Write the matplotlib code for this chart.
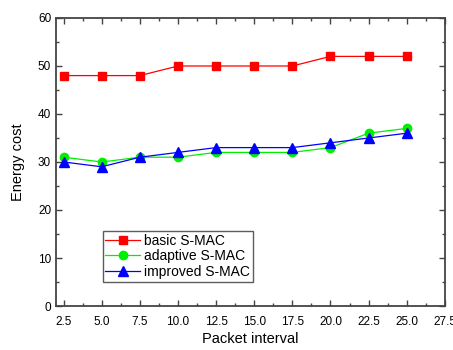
import matplotlib
matplotlib.use('Agg')
import matplotlib.pyplot as plt
from matplotlib.ticker import MultipleLocator

plt.rcParams['font.family'] = ['Liberation Sans', 'DejaVu Sans']

# Data
interval = [2.5, 5.0, 7.5, 10.0, 12.5, 15.0, 17.5, 20.0, 22.5, 25.0]
basic = [48, 48, 48, 50, 50, 50, 50, 52, 52, 52]
adaptive = [31, 30, 31, 31, 32, 32, 32, 33, 36, 37]
improved = [30, 29, 31, 32, 33, 33, 33, 34, 35, 36]

fig = plt.figure(figsize=(4.53, 3.5), dpi=100)
ax = fig.add_axes([0.1236, 0.1257, 0.8584, 0.8229])

ax.plot(interval, basic, color='red', marker='s', markersize=5.5, linewidth=0.9, label='basic S-MAC')
ax.plot(interval, adaptive, color='#00ee00', marker='o', markersize=6, linewidth=0.9, label='adaptive S-MAC')
ax.plot(interval, improved, color='blue', marker='^', markersize=6.5, linewidth=0.9, label='improved S-MAC')

ax.set_xlim(2.0, 27.5)
ax.set_ylim(0, 60)
ax.xaxis.set_major_locator(MultipleLocator(2.5))
ax.xaxis.set_minor_locator(MultipleLocator(1.25))
ax.yaxis.set_major_locator(MultipleLocator(10))
ax.yaxis.set_minor_locator(MultipleLocator(5))
ax.xaxis.set_major_formatter(plt.FuncFormatter(lambda v, p: '%.1f' % v))

ax.tick_params(which='both', direction='in', top=True, right=True, labelsize=8.5, width=1, color='#444444')
ax.tick_params(which='major', length=4)
ax.tick_params(axis='x', which='major', pad=7)
ax.tick_params(which='minor', length=2.5)
for s in ax.spines.values():
    s.set_linewidth(1.3)
    s.set_color('#444444')

ax.set_xlabel('Packet interval', fontsize=10.5, labelpad=3)
ax.set_ylabel('Energy cost', fontsize=10.5, labelpad=9)

leg = ax.legend(loc='lower left', bbox_to_anchor=(0.12, 0.085), fontsize=10, frameon=True,
                fancybox=False, edgecolor='#333333', handlelength=2.5, borderpad=0.2,
                labelspacing=0.1, handletextpad=0.3, borderaxespad=0)
leg.get_frame().set_linewidth(1.0)

fig.savefig('out.png', dpi=100)
